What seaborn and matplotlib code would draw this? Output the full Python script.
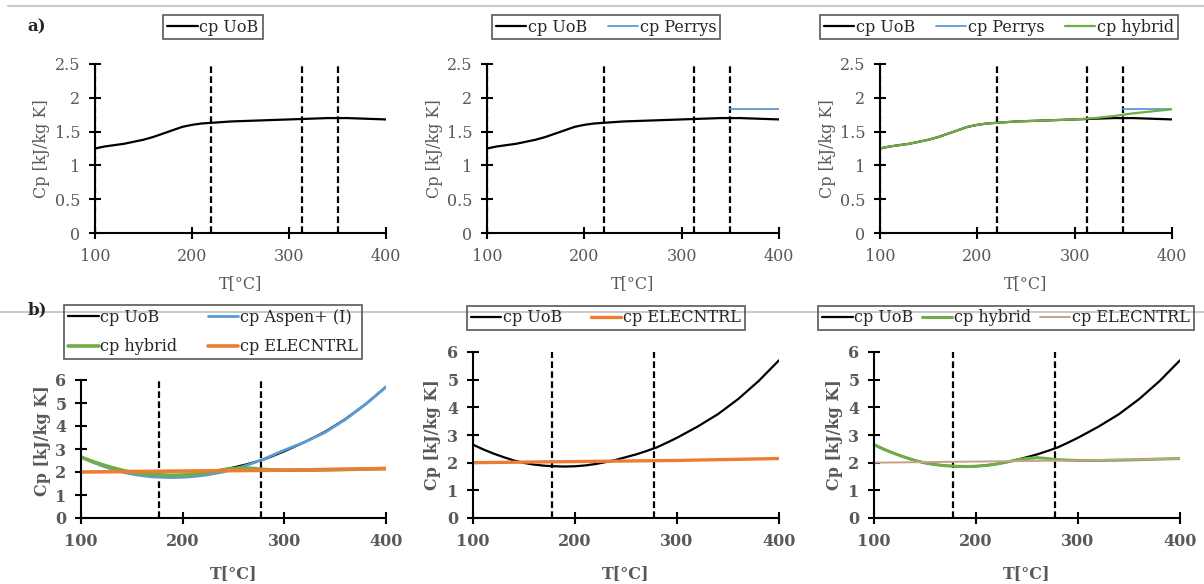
import numpy as np
import pandas as pd
import matplotlib
matplotlib.use("Agg")
import matplotlib.pyplot as plt
from matplotlib.lines import Line2D
import seaborn as sns

# ---- data ----
# a) row
t_a = [100, 110, 120, 130, 140, 150, 160, 170, 180, 190, 200, 210, 220,
       240, 260, 280, 300, 320, 340, 350, 360, 380, 400]
cp_uob_a = [1.25, 1.28, 1.30, 1.32, 1.35, 1.38, 1.42, 1.47, 1.52, 1.57, 1.60, 1.62, 1.63,
            1.65, 1.66, 1.67, 1.68, 1.69, 1.70, 1.70, 1.70, 1.69, 1.68]
cp_hybrid_a = [1.25, 1.28, 1.30, 1.32, 1.35, 1.38, 1.42, 1.47, 1.52, 1.57, 1.60, 1.62, 1.63,
               1.65, 1.66, 1.67, 1.68, 1.70, 1.73, 1.75, 1.77, 1.80, 1.83]
t_perrys = [350, 400]
cp_perrys = [1.83, 1.83]
vlines_a = [100, 220, 313, 350]

# b) row
t_b = [100, 110, 120, 130, 140, 150, 160, 170, 180, 190, 200, 210, 220, 230,
       240, 250, 260, 270, 280, 290, 300, 320, 340, 360, 380, 400]
cp_uob_b = [2.65, 2.48, 2.33, 2.20, 2.08, 1.99, 1.93, 1.89, 1.87, 1.86, 1.87, 1.90, 1.95, 2.02,
            2.10, 2.20, 2.30, 2.42, 2.55, 2.72, 2.90, 3.30, 3.75, 4.30, 4.95, 5.70]
cp_aspen_b = [2.65, 2.45, 2.28, 2.13, 2.00, 1.91, 1.84, 1.79, 1.77, 1.76, 1.77, 1.80, 1.85, 1.92,
              2.00, 2.12, 2.25, 2.40, 2.57, 2.76, 2.95, 3.30, 3.72, 4.28, 4.95, 5.70]
cp_hybrid_b = [2.65, 2.48, 2.33, 2.20, 2.08, 1.99, 1.93, 1.89, 1.87, 1.86, 1.87, 1.90, 1.95, 2.02,
               2.10, 2.15, 2.18, 2.15, 2.11, 2.09, 2.08, 2.08, 2.09, 2.11, 2.13, 2.15]
t_elec = [100, 200, 300, 400]
cp_elec = [2.00, 2.04, 2.08, 2.15]
vlines_b = [177, 277]

BLACK = "black"
BLUE = "#5B9BD5"
GREEN = "#70AD47"
ORANGE = "#ED7D31"
TAN = "#C9A08A"
GREY = "#595959"

sns.set_theme(style="ticks")
plt.rcParams["font.family"] = ["DejaVu Serif"]

W, H = 1204, 584
fig = plt.figure(figsize=(W / 100, H / 100), dpi=100)


def box(l, r, t, b):
    return [l / W, 1 - b / H, (r - l) / W, (b - t) / H]


def style_axis(ax, ymax, ystep, vl, bold, ylab_x, ylab_y, xlab_y):
    ax.set_xlim(100, 400)
    ax.set_ylim(0, ymax)
    ax.set_xticks([100, 200, 300, 400])
    ax.set_yticks(np.arange(0, ymax + 0.001, ystep))
    if ystep < 1:
        ax.set_yticklabels(["0", "0.5", "1", "1.5", "2", "2.5"])
    ax.vlines(vl, 0, ymax, colors="black", linestyles=(0, (3, 1.5)), lw=1.6, zorder=1)
    for s in ["top", "right"]:
        ax.spines[s].set_visible(False)
    for s in ["left", "bottom"]:
        ax.spines[s].set_color("black")
        ax.spines[s].set_linewidth(1.5)
    w = "bold" if bold else "normal"
    ax.tick_params(direction="inout", length=9, width=1.5, color="black",
                   labelcolor=GREY, labelsize=11.5, pad=6)
    for lab in ax.get_xticklabels() + ax.get_yticklabels():
        lab.set_fontweight(w)
    ax.set_xlabel("T[°C]", color=GREY, fontsize=11.5, fontweight=w)
    ax.set_ylabel("Cp [kJ/kg K]", color=GREY, fontsize=11.5, fontweight=w)
    ax.yaxis.set_label_coords(ylab_x, ylab_y)
    ax.xaxis.set_label_coords(0.5, xlab_y)
    ax.grid(False)


def add_legend(ax, cx, cy, ncol, order=None, colsp=1.3, lsp=0.3, fs=11.5):
    handles, labels = ax.get_legend_handles_labels()
    if order is not None:
        handles = [handles[k] for k in order]
        labels = [labels[k] for k in order]
    leg = fig.legend(handles, labels, loc="center", bbox_to_anchor=(cx / W, 1 - cy / H),
                     ncol=ncol, fontsize=fs, frameon=True, fancybox=False,
                     handlelength=1.9, handletextpad=0.1, columnspacing=colsp,
                     borderpad=0.25, labelspacing=lsp, borderaxespad=0)
    fr = leg.get_frame()
    fr.set_edgecolor("#404040")
    fr.set_linewidth(1.3)
    fr.set_facecolor("none")
    for tx in leg.get_texts():
        tx.set_color("#262626")
    if ax.get_legend() is not None:
        ax.get_legend().remove()
    return leg


# ---- row a ----
a_boxes = [box(95, 386, 64, 233), box(487, 779, 64, 233), box(880, 1172, 64, 233)]
a_leg = [(213, 27), (606, 27), (999, 27)]
a_ylab = [-0.155, -0.151, -0.151]
for i, bx in enumerate(a_boxes):
    ax = fig.add_axes(bx)
    sns.lineplot(x=t_a, y=cp_uob_a, ax=ax, color=BLACK, lw=1.6, label="cp UoB")
    if i >= 1:
        sns.lineplot(x=t_perrys, y=cp_perrys, ax=ax, color=BLUE, lw=1.3, label="cp Perrys")
    if i == 2:
        sns.lineplot(x=t_a, y=cp_hybrid_a, ax=ax, color=GREEN, lw=1.6, label="cp hybrid")
    style_axis(ax, 2.5, 0.5, vlines_a, False, a_ylab[i], 0.5, -0.25)
    add_legend(ax, a_leg[i][0], a_leg[i][1], 3)

# ---- row b ----
ax = fig.add_axes(box(81, 386, 380, 518))
sns.lineplot(x=t_b, y=cp_uob_b, ax=ax, color=BLACK, lw=1.6, label="cp UoB")
sns.lineplot(x=t_b, y=cp_aspen_b, ax=ax, color=BLUE, lw=2.0, label="cp Aspen+ (I)")
sns.lineplot(x=t_b, y=cp_hybrid_b, ax=ax, color=GREEN, lw=2.6, label="cp hybrid")
sns.lineplot(x=t_elec, y=cp_elec, ax=ax, color=ORANGE, lw=2.6, label="cp ELECNTRL")
style_axis(ax, 6, 1, vlines_b, True, -0.098, 0.56, -0.34)
add_legend(ax, 213, 332, 2, order=[0, 2, 1, 3], colsp=1.9, lsp=0.8)

ax = fig.add_axes(box(473, 779, 352, 518))
sns.lineplot(x=t_b, y=cp_uob_b, ax=ax, color=BLACK, lw=1.6, label="cp UoB")
sns.lineplot(x=t_elec, y=cp_elec, ax=ax, color=ORANGE, lw=2.4, label="cp ELECNTRL")
style_axis(ax, 6, 1, vlines_b, True, -0.105, 0.5, -0.283)
add_legend(ax, 606, 318, 2, colsp=1.8)

ax = fig.add_axes(box(874, 1180, 352, 518))
sns.lineplot(x=t_b, y=cp_uob_b, ax=ax, color=BLACK, lw=1.6, label="cp UoB")
sns.lineplot(x=t_b, y=cp_hybrid_b, ax=ax, color=GREEN, lw=2.2, label="cp hybrid")
sns.lineplot(x=t_elec, y=cp_elec, ax=ax, color=TAN, lw=1.4, label="cp ELECNTRL")
style_axis(ax, 6, 1, vlines_b, True, -0.101, 0.5, -0.283)
add_legend(ax, 1006, 318, 3, colsp=0.55)

# separators and panel tags
fig.add_artist(Line2D([8 / W, 1], [1 - 6 / H] * 2, color="#c8c8c8", lw=1.5))
fig.add_artist(Line2D([0, 1], [1 - 312 / H] * 2, color="#c0c0c0", lw=1.2))
fig.text(27 / W, 1 - 27 / H, "a)", fontsize=12, fontweight="bold", color="#262626",
         ha="left", va="center")
fig.text(28 / W, 1 - 310 / H, "b)", fontsize=12, fontweight="bold", color="#262626",
         ha="left", va="center")

fig.savefig("out.png", dpi=100)
